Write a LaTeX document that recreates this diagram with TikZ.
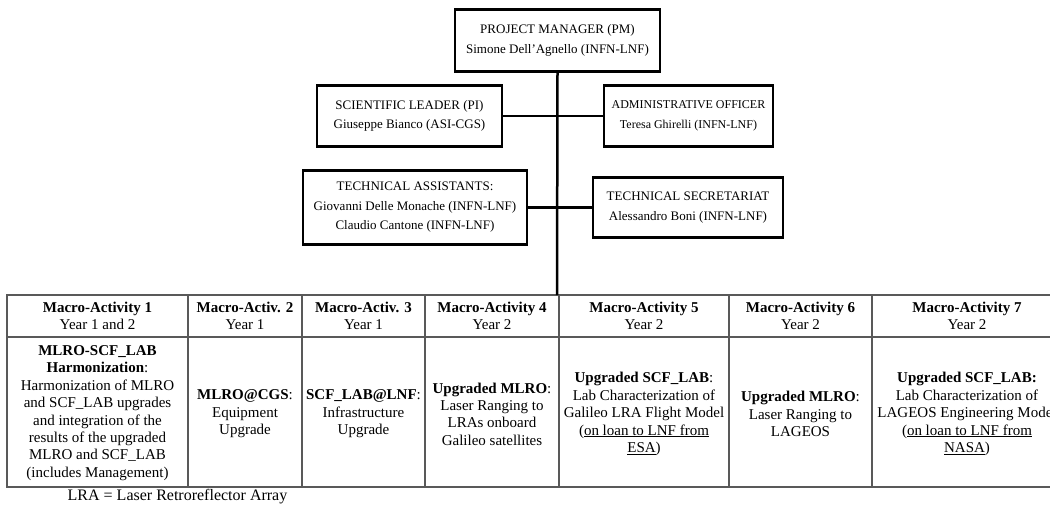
\documentclass[tikz,border=0pt]{standalone}
\usepackage{fontspec}
\setmainfont{Liberation Serif}
\tikzset{
  orgbox/.style={draw=black, line width=2.6pt, fill=white, inner sep=0pt, align=center,
    font=\fontsize{13}{19.5}\selectfont},
  conn/.style={draw=black, line width=2.5pt},
  tline/.style={draw=black!65, line width=1.5pt},
  cell/.style={inner sep=0pt, align=center, font=\fontsize{15}{17.4}\selectfont},
  note/.style={inner sep=0pt, font=\fontsize{16}{18}\selectfont}
}
\begin{document}
\begin{tikzpicture}[x=1pt,y=-1pt]
\useasboundingbox (0,0) rectangle (1050,506);
\clip (0,0) rectangle (1050,506);
\fill[white] (0,0) rectangle (1050,506);

% org boxes
\node[orgbox, minimum width=205pt, minimum height=62pt] (pm) at (557.5,40.5)
  {PROJECT MANAGER (PM)\\Simone Dell'Agnello (INFN-LNF)};
\node[orgbox, minimum width=185pt, minimum height=61pt] (sl) at (409.5,116)
  {SCIENTIFIC LEADER (PI)\\Giuseppe Bianco (ASI-CGS)};
\node[orgbox, minimum width=169pt, minimum height=61pt, font=\fontsize{12}{19.5}\selectfont] (ao) at (688.5,116)
  {ADMINISTRATIVE OFFICER\\Teresa Ghirelli (INFN-LNF)};
\node[orgbox, minimum width=224pt, minimum height=74pt] (ta) at (415,207.5)
  {TECHNICAL ASSISTANTS:\\Giovanni Delle Monache (INFN-LNF)\\Claudio Cantone (INFN-LNF)};
\node[orgbox, minimum width=190pt, minimum height=60pt] (ts) at (688,207.5)
  {TECHNICAL SECRETARIAT\\Alessandro Boni (INFN-LNF)};

\coordinate (tabtop) at (557,295);

% table grid
\draw[tline] (7,295) rectangle (1062,487);
\draw[tline] (7,337) -- (1062,337);
\foreach \xx in {188,302,425,559,729,872} {
  \draw[tline] (\xx,295) -- (\xx,487);
}

% connectors
\draw[conn] (pm.south) -- (tabtop);
\draw[conn] (sl.east) -- (ao.west);
\draw[conn] (ta.east) -- (ts.west);

% header cells
\node[cell] (h1) at (97.5,316) {\textbf{Macro-Activity 1}\\Year 1 and 2};
\node[cell] (h2) at (245,316) {\textbf{Macro-Activ. 2}\\Year 1};
\node[cell] (h3) at (363.5,316) {\textbf{Macro-Activ. 3}\\Year 1};
\node[cell] (h4) at (492,316) {\textbf{Macro-Activity 4}\\Year 2};
\node[cell] (h5) at (644,316) {\textbf{Macro-Activity 5}\\Year 2};
\node[cell] (h6) at (800.5,316) {\textbf{Macro-Activity 6}\\Year 2};
\node[cell] (h7) at (967,316) {\textbf{Macro-Activity 7}\\Year 2};

% body cells
\node[cell] (b1) at (97.5,413) {\textbf{MLRO-SCF\_LAB}\\\textbf{Harmonization}:\\Harmonization of MLRO\\and SCF\_LAB upgrades\\and integration of the\\results of the upgraded\\MLRO and SCF\_LAB\\(includes Management)};
\node[cell] (b2) at (245,414) {\textbf{MLRO@CGS}:\\Equipment\\Upgrade};
\node[cell] (b3) at (363.5,414) {\textbf{SCF\_LAB@LNF}:\\Infrastructure\\Upgrade};
\node[cell] (b4) at (492,414) {\textbf{Upgraded MLRO}:\\Laser Ranging to\\LRAs onboard\\Galileo satellites};
\node[cell] (b5) at (644,414) {\textbf{Upgraded SCF\_LAB}:\\Lab Characterization of\\Galileo LRA Flight Model\\(\underline{on loan to LNF from}\\\underline{ESA})};
\node[cell] (b6) at (800.5,414) {\textbf{Upgraded MLRO}:\\Laser Ranging to\\LAGEOS};
\node[cell] (b7) at (967,414) {\textbf{Upgraded SCF\_LAB:}\\Lab Characterization of\\LAGEOS Engineering Model\\(\underline{on loan to LNF from}\\\underline{NASA})};

% note
\node[note] (lra) at (177.5,497) {LRA = Laser Retroreflector Array};
\end{tikzpicture}
\end{document}
